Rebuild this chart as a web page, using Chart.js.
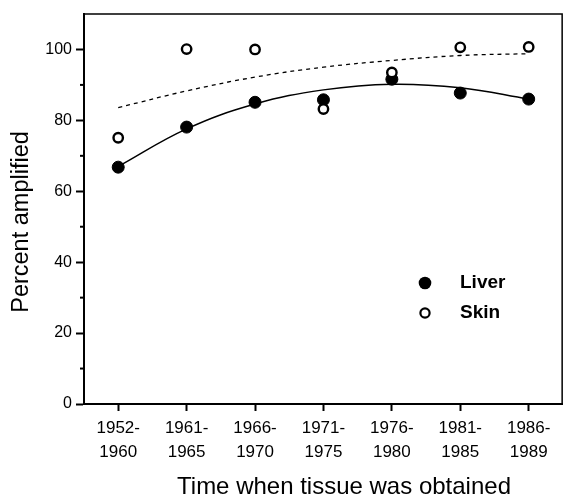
<!DOCTYPE html>
<html>
<head>
<meta charset="utf-8">
<script src="https://cdn.jsdelivr.net/npm/chart.js@4"></script>
<style>
  body { margin: 0; background: #fff; }
  #wrap { width: 570px; height: 499px; }
</style>
</head>
<body>
<div id="wrap"><canvas id="chart" width="570" height="499"></canvas></div>
<script>
// values
const categories = [["1952-", "1960"], ["1961-", "1965"], ["1966-", "1970"], ["1971-", "1975"],
                    ["1976-", "1980"], ["1981-", "1985"], ["1986-", "1989"]];
const liver = [66.8, 78.1, 85.1, 85.8, 91.6, 87.7, 86.0];
const skin = [75.1, 100.1, 100.0, 83.2, 93.5, 100.6, 100.7];
// fitted curves, read at each period
const liverFit = [67.0, 77.6, 84.6, 88.6, 90.2, 89.2, 86.0];
const skinFit = [83.6, 88.3, 92.2, 95.0, 96.9, 98.3, 98.8];
const yTicks = [0, 20, 40, 60, 80, 100];
const yMinorTicks = [10, 30, 50, 70, 90];
const legendItems = ["Liver", "Skin"];
const xTitle = "Time when tissue was obtained";
const yTitle = "Percent amplified";

const FONT = "'Liberation Sans', Arial, Helvetica, sans-serif";

const extras = {
  id: "extras",
  afterDraw(chart) {
    const c = chart.ctx;
    const a = chart.chartArea;
    const y = chart.scales.y;
    c.save();
    c.strokeStyle = "#000";

    // top and right sides of the frame
    c.lineWidth = 1.5;
    c.beginPath();
    c.moveTo(a.left, a.top);
    c.lineTo(a.right - 0.75, a.top);
    c.lineTo(a.right - 0.75, a.bottom);
    c.stroke();

    // minor ticks on y
    c.lineWidth = 2;
    yMinorTicks.forEach(v => {
      const py = y.getPixelForValue(v);
      c.beginPath();
      c.moveTo(a.left - 4, py);
      c.lineTo(a.left, py);
      c.stroke();
    });

    // legend
    const lx = a.left + 341;
    const ly = [a.top + 269, a.top + 299];
    c.fillStyle = "#000";
    c.beginPath();
    c.arc(lx, ly[0], 6.3, 0, Math.PI * 2);
    c.fill();
    c.lineWidth = 2.2;
    c.beginPath();
    c.arc(lx, ly[1], 4.6, 0, Math.PI * 2);
    c.stroke();
    c.font = "bold 19px " + FONT;
    c.textBaseline = "middle";
    c.textAlign = "left";
    c.fillText(legendItems[0], lx + 35, ly[0]);
    c.fillText(legendItems[1], lx + 35, ly[1]);

    // axis titles
    c.font = "24px " + FONT;
    c.textAlign = "center";
    c.fillText(xTitle, 344, 487);
    c.save();
    c.translate(22, 222);
    c.rotate(-Math.PI / 2);
    c.font = "23.5px " + FONT;
    c.fillText(yTitle, 0, 0);
    c.restore();

    c.restore();
  }
};

new Chart(document.getElementById("chart"), {
  type: "line",
  data: {
    labels: categories,
    datasets: [
      {
        label: "Skin",
        data: skin,
        showLine: false,
        pointRadius: 4.7,
        pointBorderWidth: 2.4,
        pointBackgroundColor: "#fff",
        pointBorderColor: "#000",
        order: 0
      },
      {
        label: "Liver",
        data: liver,
        showLine: false,
        pointRadius: 6,
        pointBorderWidth: 1,
        pointBackgroundColor: "#000",
        pointBorderColor: "#000",
        order: 1
      },
      {
        label: "Liver fit",
        data: liverFit,
        borderColor: "#000",
        borderWidth: 1.5,
        pointRadius: 0,
        tension: 0.4,
        fill: false,
        order: 2
      },
      {
        label: "Skin fit",
        data: skinFit,
        borderColor: "#000",
        borderWidth: 1.3,
        borderDash: [4, 4],
        pointRadius: 0,
        tension: 0.4,
        fill: false,
        order: 3
      }
    ]
  },
  options: {
    responsive: false,
    animation: false,
    events: [],
    layout: { padding: { top: 14, right: 1, left: 0, bottom: 0 } },
    plugins: { legend: { display: false }, tooltip: { enabled: false } },
    scales: {
      x: {
        type: "category",
        offset: true,
        grid: { drawOnChartArea: false, drawTicks: true, tickLength: 7, tickWidth: 2, tickColor: "#000", offset: false },
        border: { display: true, width: 2, color: "#000" },
        ticks: {
          color: "#000",
          font: { family: FONT, size: 17, lineHeight: 1.41 },
          padding: 5,
          maxRotation: 0,
          autoSkip: false
        },
        afterFit: s => { s.height = 95; }
      },
      y: {
        min: 0,
        max: 110,
        afterBuildTicks: s => { s.ticks = yTicks.map(v => ({ value: v })); },
        grid: { drawOnChartArea: false, drawTicks: true, tickLength: 8, tickWidth: 2, tickColor: "#000" },
        border: { display: true, width: 2, color: "#000" },
        ticks: {
          color: "#000",
          font: { family: FONT, size: 16 },
          padding: 4
        },
        afterFit: s => { s.width = 84; }
      }
    }
  },
  plugins: [extras]
});
</script>
</body>
</html>
